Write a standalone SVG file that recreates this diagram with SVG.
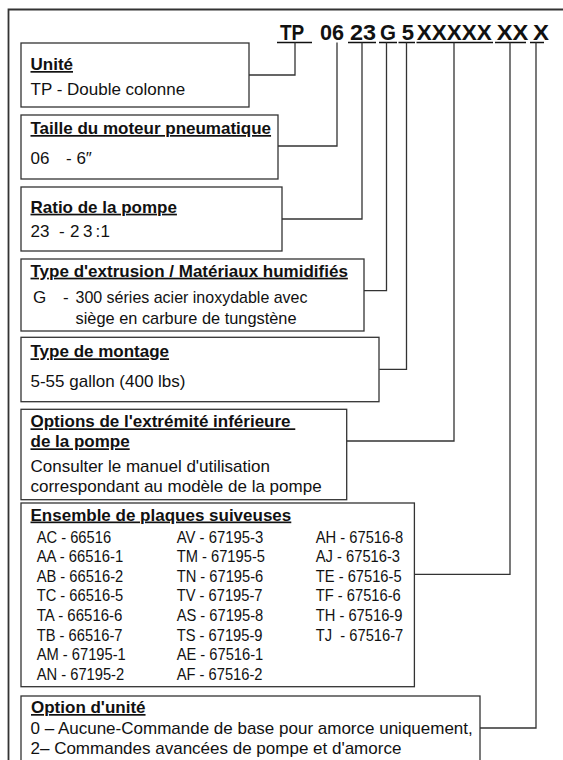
<svg xmlns="http://www.w3.org/2000/svg" width="563" height="760" viewBox="0 0 563 760">
<style>
text{font-family:"Liberation Sans",Arial,sans-serif;font-size:17px;fill:#111}
.t{font-weight:bold;text-decoration:underline}
.h{font-weight:bold;font-size:22.5px}
.box{fill:#fff;stroke:#333;stroke-width:1.3}
.c{fill:none;stroke:#333;stroke-width:1.3}
.u{stroke:#111;stroke-width:1.6}
</style>
<rect width="563" height="760" fill="#fff"/>
<g id="frame"><path d="M8.5 762V9.5H565" fill="none" stroke="#333" stroke-width="1.8"/></g>
<g id="code">
<text class="h" x="280" y="39.5" textLength="24.3" lengthAdjust="spacingAndGlyphs">TP</text>
<text class="h" x="320" y="39.5" textLength="24" lengthAdjust="spacingAndGlyphs">06</text>
<text class="h" x="350" y="39.5" textLength="26" lengthAdjust="spacingAndGlyphs">23</text>
<text class="h" x="380" y="39.5" textLength="16" lengthAdjust="spacingAndGlyphs">G</text>
<text class="h" x="401.7" y="39.5" textLength="12.3" lengthAdjust="spacingAndGlyphs">5</text>
<text class="h" x="416.7" y="39.5" textLength="75" lengthAdjust="spacingAndGlyphs">XXXXX</text>
<text class="h" x="496.7" y="39.5" textLength="31.6" lengthAdjust="spacingAndGlyphs">XX</text>
<text class="h" x="533" y="39.5" textLength="16" lengthAdjust="spacingAndGlyphs">X</text>
<path class="u" d="M277 42.5H312M348 42.5H376M379 42.5H397M398.5 42.5H415M416.5 42.5H493M495 42.5H526M530 42.5H544"/>
</g>
<g id="connectors">
<path class="c" d="M295 42.5V75H249"/>
<path class="c" d="M337 42.5V146H278"/>
<path class="c" d="M362 42.5V219H282"/>
<path class="c" d="M386.5 42.5V290.7H364"/>
<path class="c" d="M406.5 42.5V369.3H379.3"/>
<path class="c" d="M454 42.5V441H346.7"/>
<path class="c" d="M510 42.5V574.3H414.4"/>
<path class="c" d="M536 42.5V728H480"/>
</g>
<g id="unite">
<rect class="box" x="21" y="43" width="228" height="64"/>
<text class="t" x="30.5" y="70">Unité</text>
<text x="30.5" y="94.5">TP - Double colonne</text>
</g>
<g id="taille">
<rect class="box" x="21" y="115" width="257" height="64"/>
<text class="t" x="30.5" y="134">Taille du moteur pneumatique</text>
<text x="30.5" y="164">06</text>
<text x="66" y="164">- 6″</text>
</g>
<g id="ratio">
<rect class="box" x="21" y="187" width="261" height="64"/>
<text class="t" x="30.5" y="212.7">Ratio de la pompe</text>
<text x="30.5" y="236.7">23</text>
<text x="59" y="236.7">-</text>
<text y="236.7"><tspan x="70">2</tspan><tspan x="83">3</tspan><tspan x="95.5">:</tspan><tspan x="100.5">1</tspan></text>
</g>
<g id="extrusion">
<rect class="box" x="21" y="259" width="343" height="72"/>
<text class="t" x="30.5" y="276.7">Type d'extrusion / Matériaux humidifiés</text>
<text x="33" y="303.3">G</text>
<text x="63" y="303.3">-</text>
<text x="75.5" y="303.3" textLength="232" lengthAdjust="spacingAndGlyphs">300 séries acier inoxydable avec</text>
<text x="75.5" y="323.5" textLength="221" lengthAdjust="spacingAndGlyphs">siège en carbure de tungstène</text>
</g>
<g id="montage">
<rect class="box" x="21" y="337.3" width="358" height="64.4"/>
<text class="t" x="30.5" y="357.3">Type de montage</text>
<text x="30.5" y="386.7">5-55 gallon (400 lbs)</text>
</g>
<g id="options">
<rect class="box" x="21" y="409.3" width="325.7" height="90.4"/>
<text class="t" x="30.5" y="427.3" xml:space="preserve">Options de l'extrémité inférieure </text>
<text class="t" x="30.5" y="447.3">de la pompe</text>
<text x="30.5" y="472">Consulter le manuel d'utilisation</text>
<text x="30.5" y="492">correspondant au modèle de la pompe</text>
</g>
<g id="plaques">
<rect class="box" x="21" y="503" width="393.4" height="183.7"/>
<text class="t" x="30.5" y="520.5">Ensemble de plaques suiveuses</text>
<g class="rows">
<text x="36.7" y="542.5" textLength="74.4" lengthAdjust="spacingAndGlyphs">AC - 66516</text>
<text x="36.7" y="562.1" textLength="86.6" lengthAdjust="spacingAndGlyphs">AA - 66516-1</text>
<text x="36.7" y="581.7" textLength="86.6" lengthAdjust="spacingAndGlyphs">AB - 66516-2</text>
<text x="36.7" y="601.3" textLength="86.6" lengthAdjust="spacingAndGlyphs">TC - 66516-5</text>
<text x="36.7" y="620.9" textLength="85.8" lengthAdjust="spacingAndGlyphs">TA - 66516-6</text>
<text x="36.7" y="640.5" textLength="85.8" lengthAdjust="spacingAndGlyphs">TB - 66516-7</text>
<text x="36.7" y="660.1" textLength="89.1" lengthAdjust="spacingAndGlyphs">AM - 67195-1</text>
<text x="36.7" y="679.7" textLength="87.5" lengthAdjust="spacingAndGlyphs">AN - 67195-2</text>
<text x="176.7" y="542.5" textLength="86.6" lengthAdjust="spacingAndGlyphs">AV - 67195-3</text>
<text x="176.7" y="562.1" textLength="88.3" lengthAdjust="spacingAndGlyphs">TM - 67195-5</text>
<text x="176.7" y="581.7" textLength="86.6" lengthAdjust="spacingAndGlyphs">TN - 67195-6</text>
<text x="176.7" y="601.3" textLength="85.8" lengthAdjust="spacingAndGlyphs">TV - 67195-7</text>
<text x="176.7" y="620.9" textLength="86.6" lengthAdjust="spacingAndGlyphs">AS - 67195-8</text>
<text x="176.7" y="640.5" textLength="85.8" lengthAdjust="spacingAndGlyphs">TS - 67195-9</text>
<text x="176.7" y="660.1" textLength="86.6" lengthAdjust="spacingAndGlyphs">AE - 67516-1</text>
<text x="176.7" y="679.7" textLength="85.8" lengthAdjust="spacingAndGlyphs">AF - 67516-2</text>
<text x="315.8" y="542.5" textLength="87.5" lengthAdjust="spacingAndGlyphs">AH - 67516-8</text>
<text x="315.8" y="562.1" textLength="84.2" lengthAdjust="spacingAndGlyphs">AJ - 67516-3</text>
<text x="315.8" y="581.7" textLength="85.8" lengthAdjust="spacingAndGlyphs">TE - 67516-5</text>
<text x="315.8" y="601.3" textLength="85" lengthAdjust="spacingAndGlyphs">TF - 67516-6</text>
<text x="315.8" y="620.9" textLength="86.6" lengthAdjust="spacingAndGlyphs">TH - 67516-9</text>
<text x="315.8" y="640.5" textLength="87.5" lengthAdjust="spacingAndGlyphs" xml:space="preserve">TJ  - 67516-7</text>
</g>
</g>
<g id="option-unite">
<rect class="box" x="21" y="696" width="459" height="90"/>
<text class="t" x="31" y="713">Option d'unité</text>
<text x="30.5" y="734">0 – Aucune-Commande de base pour amorce uniquement,</text>
<text x="30.5" y="754">2– Commandes avancées de pompe et d'amorce</text>
</g>
</svg>
